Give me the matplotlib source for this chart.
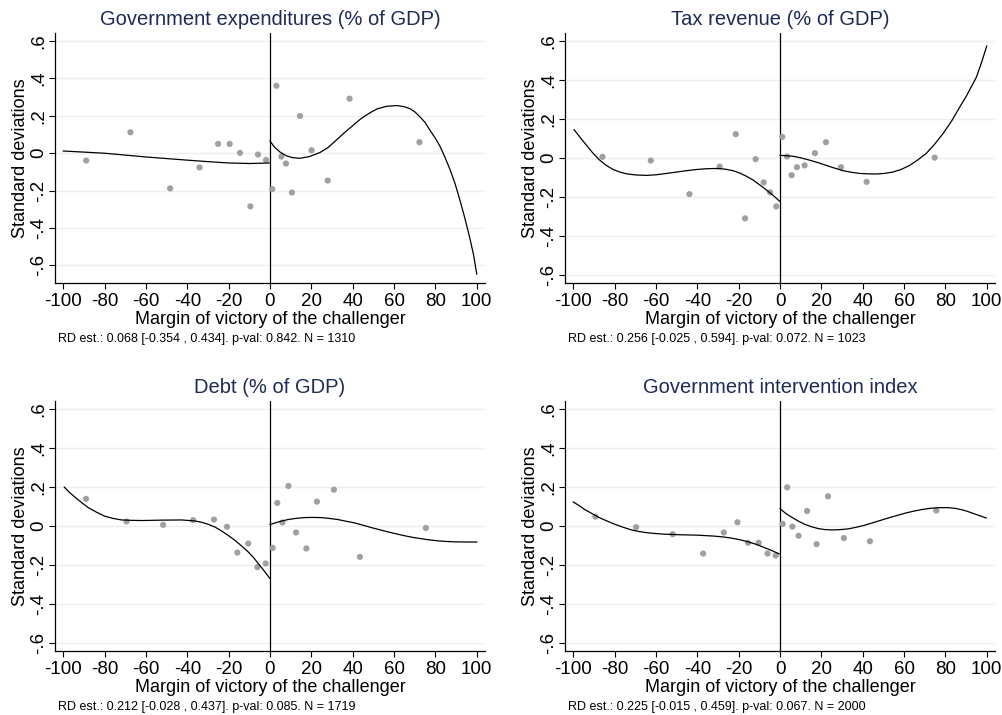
import matplotlib
matplotlib.use("Agg")
import matplotlib.pyplot as plt

plt.rcParams['font.family'] = ['Liberation Sans', 'DejaVu Sans']
plt.rcParams['axes.unicode_minus'] = False

# --- binned scatter points (x = margin, y = std. deviations) ---
exp_x = [-88.9, -67.5, -48.3, -34.1, -25.1, -19.5, -14.5, -9.5, -5.8, -1.9,
         1.1, 3.1, 5.5, 7.7, 10.6, 14.5, 20.1, 27.9, 38.5, 72.3]
exp_y = [-0.039, 0.112, -0.188, -0.076, 0.050, 0.050, 0.002, -0.284, -0.007, -0.036,
         -0.192, 0.361, -0.018, -0.055, -0.210, 0.199, 0.016, -0.146, 0.292, 0.059]

tax_x = [-85.9, -62.5, -43.8, -29.2, -21.4, -16.9, -11.8, -7.9, -4.8, -1.8,
         1.1, 3.4, 5.6, 8.2, 11.9, 16.9, 22.2, 29.5, 41.9, 74.8]
tax_y = [0.007, -0.012, -0.184, -0.043, 0.123, -0.308, -0.005, -0.124, -0.175, -0.247,
         0.109, 0.009, -0.087, -0.046, -0.037, 0.026, 0.082, -0.046, -0.121, 0.003]

debt_x = [-89.0, -69.4, -51.7, -37.2, -27.1, -20.8, -15.8, -10.5, -6.1, -2.1,
          1.3, 3.5, 6.0, 8.9, 12.6, 17.6, 22.7, 30.9, 43.5, 75.4]
debt_y = [0.140, 0.024, 0.007, 0.031, 0.034, -0.003, -0.135, -0.089, -0.210, -0.191,
          -0.111, 0.119, 0.019, 0.206, -0.032, -0.114, 0.126, 0.187, -0.157, -0.009]

int_x = [-89.3, -69.6, -51.9, -37.2, -27.2, -20.6, -15.5, -10.3, -6.0, -2.1,
         1.3, 3.5, 6.0, 9.0, 13.1, 17.7, 23.2, 30.9, 43.5, 75.6]
int_y = [0.049, -0.005, -0.041, -0.140, -0.032, 0.020, -0.085, -0.085, -0.140, -0.150,
         0.012, 0.199, -0.002, -0.049, 0.078, -0.092, 0.153, -0.061, -0.077, 0.080]

# --- fitted curves (left and right of the cutoff) ---
exp_lx = [-100, -80, -60, -40, -30, -20, -10, 0]
exp_ly = [0.012, 0.000, -0.020, -0.037, -0.045, -0.052, -0.055, -0.052]
exp_rx = [0, 2, 5, 8, 11, 14.5, 19, 24.2, 28, 32.2, 36, 40.3, 44, 48.3, 52, 56.4, 61.2,
          64.5, 67.6, 70, 72.5, 75, 77.3, 80, 82.1, 84.5, 87, 89.5, 91.8, 94.2, 96.6, 98.5, 100]
exp_ry = [0.065, 0.035, 0.005, -0.014, -0.024, -0.027, -0.018, 0.004, 0.030, 0.071, 0.110,
          0.150, 0.185, 0.216, 0.238, 0.251, 0.255, 0.250, 0.239, 0.222, 0.195, 0.165,
          0.124, 0.080, 0.040, -0.018, -0.085, -0.162, -0.248, -0.345, -0.451, -0.545, -0.646]

tax_lx = [-99.6, -96.5, -93.6, -90.5, -87.2, -84, -80.7, -77.5, -74.3, -69.5, -64.6, -60,
          -55, -50, -45.3, -40.5, -35.6, -32.5, -29.2, -26, -22.7, -19.5, -16.3, -13,
          -9.8, -7.5, -5, -2.5, 0]
tax_ly = [0.146, 0.104, 0.066, 0.026, -0.010, -0.037, -0.058, -0.071, -0.080, -0.086,
          -0.088, -0.085, -0.078, -0.071, -0.064, -0.058, -0.054, -0.053, -0.053, -0.057,
          -0.064, -0.076, -0.092, -0.112, -0.137, -0.155, -0.176, -0.198, -0.222]
tax_rx = [0, 6.3, 10, 14.3, 18.5, 22.4, 26.5, 30.5, 34.5, 38.5, 42.5, 46.6, 50.5, 54.6,
          58.5, 62.7, 66.5, 70.7, 74.5, 78.8, 83, 86.9, 90, 93, 95, 97.5, 100]
tax_ry = [0.015, 0.010, 0.002, -0.010, -0.023, -0.037, -0.051, -0.064, -0.072, -0.078,
          -0.080, -0.081, -0.078, -0.071, -0.058, -0.037, -0.010, 0.024, 0.068, 0.125,
          0.190, 0.261, 0.315, 0.375, 0.415, 0.490, 0.574]

debt_lx = [-99.5, -97, -94.4, -91, -87.9, -84, -79.9, -76, -71.8, -67, -62.2, -52.5,
           -42.9, -36.4, -33, -30, -26.5, -23.5, -20.5, -17.1, -14, -10.6, -8, -5.8,
           -3, -0.2]
debt_ly = [0.200, 0.173, 0.149, 0.120, 0.095, 0.072, 0.051, 0.040, 0.032, 0.030, 0.029,
           0.031, 0.032, 0.027, 0.020, 0.010, -0.005, -0.024, -0.045, -0.071, -0.099,
           -0.131, -0.160, -0.190, -0.226, -0.266]
debt_rx = [0, 4, 8.7, 12.5, 16.7, 20.5, 24.8, 28.5, 32.9, 36.5, 40.9, 45, 49, 53, 57,
           61, 65.1, 69, 73.1, 77, 81.2, 85, 89.2, 94.5, 100]
debt_ry = [0.008, 0.022, 0.034, 0.040, 0.044, 0.045, 0.044, 0.040, 0.034, 0.026, 0.017,
           0.005, -0.007, -0.018, -0.029, -0.039, -0.049, -0.057, -0.064, -0.070, -0.075,
           -0.078, -0.080, -0.081, -0.081]

int_lx = [-100, -97, -94.4, -91, -88, -84, -79.9, -76, -71.9, -67.8, -63.8, -59.8,
          -55.7, -47.7, -39.6, -31.6, -27.5, -23.5, -19.5, -15.5, -11.5, -7.4, -3.7, -0.3]
int_ly = [0.124, 0.104, 0.085, 0.065, 0.047, 0.028, 0.010, -0.005, -0.019, -0.028,
          -0.034, -0.038, -0.041, -0.044, -0.046, -0.051, -0.055, -0.061, -0.069, -0.080,
          -0.093, -0.110, -0.126, -0.142]
int_rx = [0, 2.7, 5.5, 8.7, 11.9, 15, 18.4, 21.5, 24.8, 28.5, 32.9, 37, 41, 45, 49, 53,
          57, 61, 65.1, 69, 73.1, 77, 81.2, 85, 89.2, 92.5, 96, 99.7]
int_ry = [0.090, 0.066, 0.047, 0.027, 0.010, -0.002, -0.012, -0.017, -0.019, -0.018,
          -0.014, -0.005, 0.005, 0.018, 0.031, 0.044, 0.056, 0.068, 0.078, 0.086, 0.092,
          0.095, 0.095, 0.091, 0.081, 0.069, 0.056, 0.042]

titles = ["Government expenditures (% of GDP)", "Tax revenue (% of GDP)",
          "Debt (% of GDP)", "Government intervention index"]
notes = ["RD est.: 0.068 [-0.354 , 0.434]. p-val: 0.842. N = 1310",
         "RD est.: 0.256 [-0.025 , 0.594]. p-val: 0.072. N = 1023",
         "RD est.: 0.212 [-0.028 , 0.437]. p-val: 0.085. N = 1719",
         "RD est.: 0.225 [-0.015 , 0.459]. p-val: 0.067. N = 2000"]
yticks = [-0.6, -0.4, -0.2, 0, 0.2, 0.4, 0.6]
ytick_labels = ["-.6", "-.4", "-.2", "0", ".2", ".4", ".6"]
xticks = [-100, -80, -60, -40, -20, 0, 20, 40, 60, 80, 100]

panels = [
    (exp_x, exp_y, exp_lx, exp_ly, exp_rx, exp_ry),
    (tax_x, tax_y, tax_lx, tax_ly, tax_rx, tax_ry),
    (debt_x, debt_y, debt_lx, debt_ly, debt_rx, debt_ry),
    (int_x, int_y, int_lx, int_ly, int_rx, int_ry),
]
ylims = [(-0.694, 0.643), (-0.639, 0.641), (-0.639, 0.641), (-0.639, 0.641)]

W, H = 1003, 715
# axes boxes in pixels: left, top, right, bottom
boxes = [(55, 33, 485, 283), (565, 33, 995, 283), (55, 401, 485, 651), (565, 401, 995, 651)]
title_col = "#1c2b57"

fig = plt.figure(figsize=(W / 100, H / 100), dpi=100)
for i, (sx, sy, lx, ly, rx, ry) in enumerate(panels):
    l, t, r, b = boxes[i]
    ax = fig.add_axes([l / W, 1 - b / H, (r - l) / W, (b - t) / H])
    for yv in yticks:
        ax.axhline(yv, color="#e8f0f1", lw=1.0, zorder=0)
    ax.axvline(0, color="black", lw=0.9, zorder=2)
    ax.scatter(sx, sy, s=20, color="#a0a0a0", edgecolors="none", zorder=3)
    ax.plot(lx, ly, color="black", lw=0.9, zorder=4)
    ax.plot(rx, ry, color="black", lw=0.9, zorder=4)
    ax.set_xlim(-104, 104)
    ax.set_ylim(*ylims[i])
    ax.set_xticks(xticks)
    ax.set_yticks(yticks)
    ax.set_yticklabels(ytick_labels, rotation=90, va="center")
    ax.tick_params(labelsize=13.5, length=4, width=0.8, color="black")
    ax.tick_params(axis="x", pad=3)
    ax.tick_params(axis="y", pad=1.5)
    for side in ["top", "right"]:
        ax.spines[side].set_visible(False)
    for side in ["left", "bottom"]:
        ax.spines[side].set_linewidth(0.9)
    ax.set_xlabel("Margin of victory of the challenger", fontsize=13, labelpad=1)
    ax.set_ylabel("Standard deviations", fontsize=13, labelpad=1)
    ax.set_title(titles[i], fontsize=14.5, color=title_col, pad=6)
    fig.text((l + 3) / W, 1 - (b + 56) / H, notes[i], fontsize=9, va="center")

fig.savefig("out.png", dpi=100)
